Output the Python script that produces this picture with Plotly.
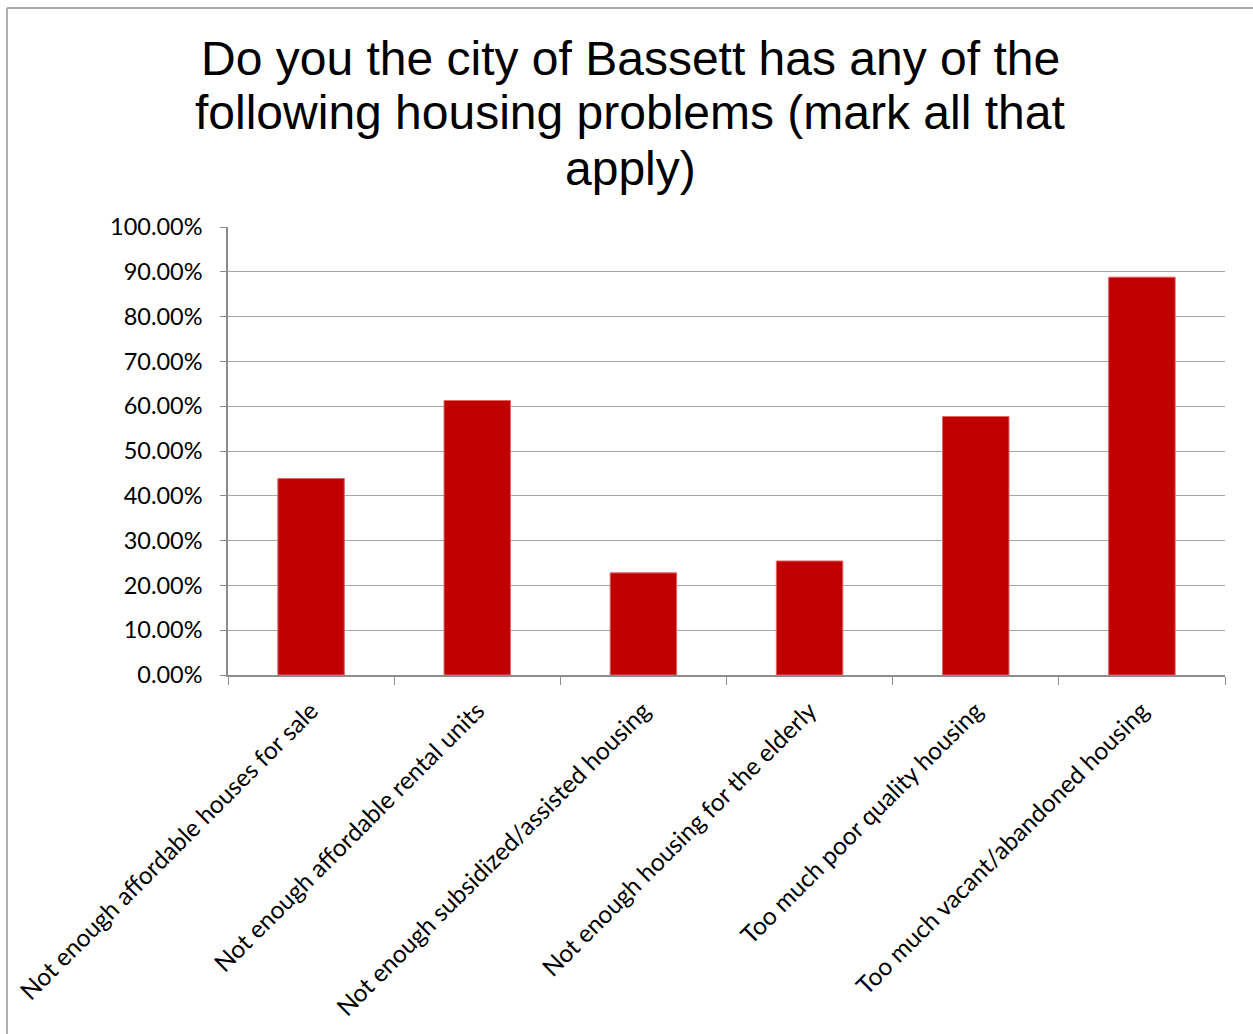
import plotly.graph_objects as go

categories = [
    "Not enough affordable houses for sale",
    "Not enough affordable rental units",
    "Not enough subsidized/assisted housing",
    "Not enough housing for the elderly",
    "Too much poor quality housing",
    "Too much vacant/abandoned housing",
]
shares = [0.4387, 0.6127, 0.2280, 0.2545, 0.5770, 0.8880]
y_ticks = [i / 10 for i in range(11)]
y_tick_labels = [f"{v * 100:.2f}%" for v in y_ticks]

title_lines = [
    "Do you the city of Bassett has any of the",
    "following housing problems (mark all that",
    "apply)",
]

W, H = 1253, 1034
L, R, T, B = 228, 28, 227, 359
pw, ph = W - L - R, H - T - B

fig = go.Figure(
    go.Bar(
        x=categories,
        y=shares,
        marker=dict(color="#C00000", line=dict(color="#E06666", width=1)),
        hoverinfo="x+y",
    )
)

axis_gray = "#8C8C8C"
label_family = "Lato, Carlito, Calibri, sans-serif"

# title, one line per annotation so the line spacing stays tight
title_font = dict(family="Liberation Sans, Arial, sans-serif", size=48, color="#000000")
title_annotations = [
    dict(text=line, xref="paper", yref="paper",
         x=(630 - L) / pw, y=(H - B - yc) / ph,
         xanchor="center", yanchor="middle",
         showarrow=False, font=title_font)
    for line, yc in zip(title_lines, [58, 113, 168])
]

fig.update_layout(
    width=W,
    height=H,
    margin=dict(l=L, r=R, t=T, b=B, autoexpand=False),
    paper_bgcolor="white",
    plot_bgcolor="white",
    bargap=0.6,
    showlegend=False,
    annotations=title_annotations,
    xaxis=dict(
        type="category",
        tickangle=-45,
        tickson="boundaries",
        ticks="outside",
        ticklen=8,
        tickcolor=axis_gray,
        tickwidth=1,
        showline=True,
        linecolor=axis_gray,
        linewidth=1.5,
        showgrid=False,
        tickfont=dict(family=label_family, size=24.5, color="#000000"),
        ticklabelstandoff=10,
        fixedrange=True,
    ),
    yaxis=dict(
        range=[0, 1.0],
        tickvals=y_ticks,
        ticktext=y_tick_labels,
        ticks="outside",
        ticklen=6,
        tickcolor=axis_gray,
        showline=True,
        linecolor=axis_gray,
        linewidth=1.5,
        showgrid=True,
        gridcolor="#A6A6A6",
        gridwidth=1.2,
        zeroline=False,
        tickfont=dict(family=label_family, size=23.5, color="#000000"),
        ticklabelstandoff=13,
        fixedrange=True,
    ),
    shapes=[
        # outer chart frame (top and left edges are inside the page)
        dict(type="line", xref="paper", yref="paper",
             x0=(7 - L) / pw, x1=(W + 5 - L) / pw,
             y0=(H - B - 8) / ph, y1=(H - B - 8) / ph,
             line=dict(color="#8C8C8C", width=1.5)),
        dict(type="line", xref="paper", yref="paper",
             x0=(7 - L) / pw, x1=(7 - L) / pw,
             y0=(H - B - 8) / ph, y1=(H - B - H - 5) / ph,
             line=dict(color="#B0B0B0", width=2)),
    ],
)

fig.write_html("out.html")
